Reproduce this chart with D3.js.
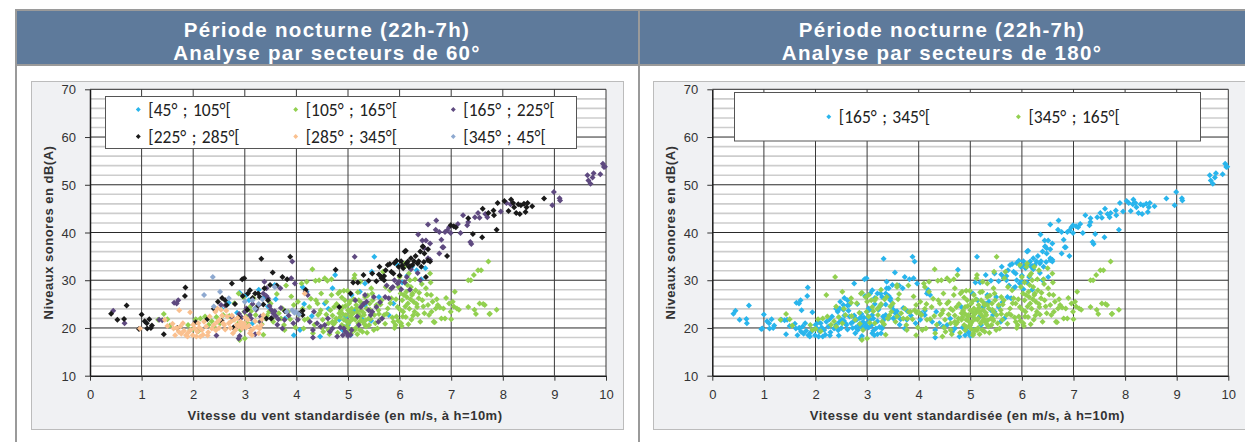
<!DOCTYPE html>
<html><head><meta charset="utf-8">
<script src="https://cdn.jsdelivr.net/npm/d3@7"></script>
<style>
html,body{margin:0;padding:0;background:#fff;}
svg{display:block;}
.tick text{font-family:"Liberation Sans",Arial,sans-serif;font-size:13px;fill:#333;}
</style>
</head><body>
<svg id="c" width="1245" height="442"></svg>
<script>
// ---------- DATA ----------
const xTicks = [0,1,2,3,4,5,6,7,8,9,10];
const yTicks = [10,20,30,40,50,60,70];
const titlesLeft = ["Période nocturne (22h-7h)", "Analyse par secteurs de 60°"];
const titlesRight = ["Période nocturne (22h-7h)", "Analyse par secteurs de 180°"];
const xTitle = "Vitesse du vent standardisée (en m/s, à h=10m)";
const yTitle = "Niveaux sonores en dB(A)";

const sectors60 = ["[45° ; 105°[", "[105° ; 165°[", "[165° ; 225°[", "[225° ; 285°[", "[285° ; 345°[", "[345° ; 45°["];
const colors60 = ["#29b5ec", "#92d050", "#5f4a80", "#1a1a1a", "#fac08f", "#8ea9d0"];
const sectors180 = ["[165° ; 345°[", "[345° ; 165°["];
const colors180 = ["#29b5ec", "#92d050"];

const s45_105 = [[2.69,25.3],[2.9,27.4],[3.03,26.9],[3.08,25.8],[3.27,28.0],[3.38,26.5],[3.58,29.0],[3.78,22.0],[3.95,18.5],[4.07,19.6],[4.12,28.6],[4.2,27.6],[4.46,18.2],[4.55,25.1],[4.7,28.3],[4.75,31.1],[4.83,21.7],[5.0,20.6],[5.07,26.9],[5.23,27.6],[5.33,29.3],[5.46,31.8],[5.51,34.9],[5.66,30.4],[5.79,22.7],[5.88,25.1],[5.96,33.2],[6.24,32.8],[6.33,32.1],[6.42,30.2],[6.5,32.5],[5.05,18.5],[4.96,22.4],[5.13,23.7],[5.27,21.9],[5.33,24.8],[2.85,23.2],[3.15,21.0],[3.45,24.5],[4.3,22.5],[4.62,24.0],[4.9,19.5],[5.6,26.5],[2.55,24.0],[3.6,26.0],[4.15,25.0],[5.45,21.5],[6.05,29.5],[6.15,31.0]];

const s105_165 = [[1.43,22.9],[1.32,21.7],[1.9,20.6],[1.94,19.6],[2.05,21.8],[2.14,22.0],[2.23,22.4],[2.36,21.4],[2.4,20.3],[2.52,21.0],[2.58,22.7],[2.77,21.7],[2.88,27.2],[2.92,19.6],[2.99,23.4],[3.03,22.4],[3.1,24.4],[3.17,26.2],[3.21,22.7],[3.29,21.3],[3.4,22.0],[3.47,23.4],[3.58,22.4],[3.66,23.1],[3.73,24.1],[3.77,19.6],[3.84,23.4],[3.95,24.8],[4.03,25.5],[4.1,29.3],[4.14,19.9],[4.16,21.7],[4.2,29.7],[4.25,24.4],[4.31,32.3],[4.32,18.9],[4.38,25.8],[4.42,22.7],[4.44,30.0],[4.47,23.7],[4.51,21.7],[4.55,30.4],[4.58,25.5],[4.62,19.6],[4.64,18.7],[4.66,23.7],[4.7,21.3],[4.73,24.4],[4.77,22.0],[4.81,27.2],[4.83,23.1],[4.84,27.6],[4.88,20.6],[4.9,24.4],[4.92,21.7],[4.94,25.8],[4.96,22.7],[4.98,20.3],[5.0,23.7],[5.02,25.1],[5.03,21.3],[5.05,22.4],[5.07,24.1],[5.09,19.6],[5.1,23.1],[5.13,31.1],[5.14,21.7],[5.16,24.8],[5.18,23.4],[5.2,21.0],[5.21,25.8],[5.24,22.4],[5.25,23.7],[5.27,24.8],[5.29,21.3],[5.31,22.7],[5.33,26.5],[5.35,20.3],[5.36,24.1],[5.4,22.0],[5.42,25.1],[5.45,23.4],[5.47,27.2],[5.5,19.6],[5.51,22.7],[5.55,24.8],[5.59,23.7],[5.62,21.7],[5.65,25.8],[5.68,31.8],[5.7,22.7],[5.73,28.6],[5.77,24.1],[5.81,27.9],[5.84,26.2],[5.88,21.3],[5.92,20.6],[5.94,22.4],[5.96,24.4],[5.98,28.6],[6.0,30.7],[6.02,27.2],[6.03,21.0],[6.05,25.8],[6.07,23.4],[6.09,32.8],[6.1,33.5],[6.13,27.6],[6.14,26.5],[6.16,25.1],[6.18,31.4],[6.2,30.0],[6.22,28.6],[6.24,26.9],[6.25,27.2],[6.29,23.4],[6.31,27.9],[6.34,24.4],[6.37,26.2],[6.4,21.3],[6.44,25.8],[6.48,23.1],[6.51,28.3],[6.55,24.8],[6.59,31.4],[6.61,26.9],[6.62,23.4],[6.66,21.3],[6.7,24.1],[6.74,24.8],[6.81,22.0],[6.85,24.1],[6.88,22.0],[6.96,25.1],[6.99,23.4],[7.03,25.5],[7.07,27.6],[7.11,24.1],[7.33,30.0],[7.33,24.4],[7.44,31.1],[7.48,22.9],[7.52,32.1],[7.55,25.1],[7.65,24.8],[7.74,22.9],[7.72,33.9],[7.88,23.8],[5.18,18.7],
[4.52,19.2],[4.58,22.8],[4.68,26.9],[4.72,20.8],[4.78,25.0],[4.8,19.0],[4.86,23.6],[4.88,26.4],[4.93,20.2],[4.95,24.6],[4.99,27.8],[5.01,21.0],[5.04,25.6],[5.06,18.9],[5.08,22.9],[5.11,26.0],[5.15,20.0],[5.17,24.2],[5.19,27.5],[5.22,21.2],[5.26,25.3],[5.28,19.2],[5.3,23.2],[5.34,21.6],[5.38,26.8],[5.41,20.6],[5.43,23.8],[5.48,25.8],[5.53,21.0],[5.57,19.9],[5.6,22.9],[5.63,24.9],[5.72,20.9],[5.75,23.0],[5.82,25.2],[5.86,22.2],[5.9,20.0],[5.93,26.0],[5.97,21.5],[6.01,23.8],[6.04,20.4],[6.08,26.9],[6.12,22.3],[6.15,29.0],[6.19,24.0],[6.23,21.7],[6.27,25.5],[6.3,30.2],[6.35,22.8],[6.38,27.4],[6.43,29.2],[6.46,24.5],[6.53,27.0],[6.57,22.7],[6.6,29.5],[6.64,25.5],[6.68,21.2],[6.72,26.0],[6.78,24.3],[6.9,26.3],[7.0,21.8],[7.05,24.5],[7.15,23.8],[4.05,22.7],[4.12,24.0],[4.22,21.9],[4.28,26.1],[4.35,20.7],[4.37,29.9],[4.41,25.1],[4.45,23.1],[4.48,27.2],[4.49,20.1],[3.5,25.1],[3.55,21.3],[3.62,27.1],[3.7,22.0],[3.88,21.8],[3.9,26.6],[3.98,20.1],[2.7,22.5],[2.8,25.2],[2.86,20.9],[2.97,26.5],[3.05,21.1],[3.12,23.5],[3.25,24.6],[3.33,20.8],[2.45,22.3],[2.3,20.7],[2.1,19.3],[2.0,19.8],[1.5,21.8],[1.55,20.5],[3.0,17.8],[2.9,17.5],[3.36,18.6],[3.43,22.6],[3.8,28.9],[3.76,20.6],[4.6,29.9],[4.68,30.2],[4.92,27.8],[5.12,30.4],[5.24,29.7],[5.45,28.3],[7.38,30.0],[7.58,32.1],[7.45,23.8],[7.62,25.0],[7.75,23.0],
[4.75,21.2],[4.85,22.3],[4.97,21.4],[5.02,19.8],[5.09,21.8],[5.13,19.5],[5.2,22.9],[5.23,19.6],[5.32,20.8],[5.37,19.0],[5.44,21.9],[4.7,22.6],[4.62,21.0],[4.9,22.9],[5.05,23.2],[5.15,22.0],[5.25,21.6],[6.06,22.4],[6.11,24.5],[6.17,20.8],[6.21,26.0],[6.26,22.6],[6.33,25.0]];

const s165_225 = [[0.45,23.6],[0.67,21.0],[1.63,25.3],[1.71,25.8],[1.34,21.7],[2.45,18.4],[2.54,24.8],[2.88,17.8],[2.9,18.3],[2.89,22.9],[2.94,22.2],[3.03,24.1],[3.1,22.7],[3.15,25.0],[3.2,18.7],[3.27,24.8],[3.31,22.4],[3.36,27.2],[3.38,29.7],[3.42,28.3],[3.45,26.2],[3.51,23.8],[3.55,23.1],[3.6,22.5],[3.65,21.8],[3.69,28.3],[3.73,19.9],[3.77,21.7],[3.92,33.9],[3.9,30.4],[3.94,21.0],[4.03,21.7],[4.18,27.6],[4.22,26.9],[4.26,21.3],[4.32,19.6],[4.32,18.0],[4.34,23.4],[4.47,20.3],[4.61,22.0],[4.7,19.9],[4.79,18.2],[4.9,18.5],[4.92,19.9],[4.98,18.9],[5.07,19.6],[5.13,34.9],[5.14,25.8],[5.18,22.4],[5.21,20.6],[5.25,24.4],[5.33,26.9],[5.36,25.5],[5.4,23.7],[5.44,22.7],[5.47,23.4],[5.55,24.4],[5.59,21.3],[5.66,22.0],[5.72,26.5],[5.79,26.2],[5.84,28.3],[5.87,28.6],[5.96,29.3],[5.99,29.7],[6.03,28.1],[6.14,30.7],[6.22,32.3],[6.48,36.7],[6.55,34.6],[6.59,34.3],[6.77,35.6],[6.83,36.9],[7.39,37.6],[6.59,37.7],
[6.36,39.6],[6.44,38.3],[6.51,38.3],[6.55,41.7],[6.7,40.6],[6.71,42.5],[6.77,40.1],[6.85,36.9],[6.81,38.5],[6.88,40.1],[6.92,40.4],[6.96,41.1],[6.99,39.9],[7.13,41.8],[7.18,39.9],[7.23,43.6],[7.31,41.5],[7.33,42.2],[7.37,38.0],[7.46,43.2],[7.52,44.1],[7.55,43.1],[7.66,43.9],[7.7,43.2],[7.96,44.4],[8.07,46.2],[8.15,45.9],[8.96,45.7],[8.99,48.5],[9.1,47.2],[9.11,46.7],[9.64,52.0],[9.66,50.9],[9.7,50.2],[9.74,51.5],[9.76,52.4],[9.89,52.2],[9.94,54.4],[9.96,53.7],[9.98,53.8],
[3.0,23.4],[3.12,22.0],[3.22,23.8],[3.3,21.3],[3.48,24.6],[3.52,22.1],[3.58,23.5],[3.63,20.7],[3.7,24.2],[3.85,22.6],[2.62,24.7],[2.75,22.3],[1.4,21.6],[1.68,25.1],[4.4,21.0],[4.55,20.6],[4.65,19.2],[4.85,20.1],[4.95,19.2],[5.0,18.3],[5.05,18.6],[5.3,25.0],[5.5,26.5],[5.62,25.4],[5.75,28.9],[5.9,30.0],[6.1,29.5],[6.2,28.0],[6.35,31.5],[6.4,30.0],[3.97,29.3],[3.42,26.7]];

const s225_285 = [[0.41,23.0],[0.53,21.7],[0.71,24.7],[0.66,21.9],[1.0,22.8],[1.06,21.4],[1.1,21.0],[1.11,19.9],[1.18,20.0],[1.43,18.7],[1.69,20.0],[1.84,26.7],[1.85,28.5],[2.27,21.8],[2.48,25.5],[2.56,26.3],[2.62,25.8],[2.75,29.3],[2.81,25.0],[2.78,20.1],[2.95,30.2],[2.99,30.4],[2.96,26.7],[3.06,27.2],[3.1,27.9],[3.2,27.2],[3.26,27.2],[3.29,26.5],[3.32,34.5],[3.38,28.3],[3.36,24.9],[3.49,29.0],[3.42,22.0],[3.51,22.0],[3.54,31.6],[3.73,30.7],[3.78,23.5],[3.88,34.9],[4.12,22.7],[4.12,23.6],[4.76,32.2],[4.83,24.4],[5.05,27.2],[5.1,29.5],[5.19,29.5],[5.3,31.1],[5.4,29.9],[5.47,31.4],[5.61,32.8],[5.65,30.7],[5.7,30.9],[5.73,32.1],[5.77,33.2],[5.81,33.4],[5.84,31.8],[5.88,31.4],[5.94,34.1],[5.98,32.8],[6.03,34.0],[6.07,32.5],[6.1,36.0],[6.13,33.5],[6.16,33.9],[6.18,32.8],[6.22,34.6],[6.25,33.2],[6.31,35.1],[6.37,34.0],[6.42,32.8],[6.45,37.0],[6.48,35.6],[6.51,30.7],[6.55,34.2],[6.59,33.9],[6.92,35.1],[5.65,30.4],[5.7,30.0],
[6.12,36.2],[6.45,37.1],[6.99,41.5],[7.05,41.3],[7.09,41.1],[7.33,43.0],[7.42,39.7],[7.6,39.0],[7.61,45.0],[7.72,44.1],[7.83,43.6],[7.82,44.6],[7.88,40.6],[7.9,46.2],[8.03,46.6],[8.11,44.5],[8.16,46.9],[8.2,46.2],[8.22,45.3],[8.26,44.1],[8.3,45.9],[8.35,45.7],[8.41,46.0],[8.44,44.3],[8.33,43.9],[8.48,46.2],[8.57,45.5],[8.8,47.1],[8.46,45.3],
[2.4,24.0],[2.55,21.5],[2.65,24.8],[2.88,22.2],[3.05,23.8],[3.15,26.3],[3.22,24.2],[3.45,25.8],[3.62,28.9],[3.82,30.2],[4.05,23.1],[4.18,28.0],[5.55,29.8],[5.6,31.2],[5.9,33.6],[6.0,31.0],[6.05,33.1],[6.2,33.0],[6.28,34.0],[6.35,33.5],[6.4,36.0],[6.47,33.8],[6.55,36.5],[2.05,21.2],[0.95,19.8],[1.15,21.8],[1.2,20.5]];

const s285_345 = [[0.97,19.9],[1.45,21.7],[1.5,20.4],[1.62,19.9],[1.65,18.5],[1.73,23.7],[1.77,18.8],[1.8,21.0],[1.86,18.5],[1.89,18.2],[1.94,23.3],[1.95,19.6],[1.99,18.5],[2.03,19.9],[2.06,18.2],[2.1,21.0],[2.14,18.2],[2.17,19.6],[2.21,21.3],[2.25,20.3],[2.32,22.4],[2.4,20.6],[2.43,23.4],[2.47,24.1],[2.51,21.7],[2.54,23.8],[2.58,21.0],[2.62,19.7],[2.66,22.4],[2.69,21.0],[2.73,21.3],[2.77,18.9],[2.8,21.7],[2.84,20.6],[2.88,20.3],[2.92,21.3],[2.95,19.9],[2.99,21.0],[3.03,20.1],[3.06,21.7],[3.1,18.9],[3.14,18.5],[3.17,19.9],[3.29,19.9],[3.32,20.6],[3.36,22.7],[4.16,27.2],
[1.6,20.9],[1.68,20.0],[1.75,20.3],[1.82,19.4],[1.9,19.0],[2.0,20.7],[2.08,19.2],[2.12,20.1],[2.19,18.6],[2.29,19.1],[2.36,19.9],[2.46,21.2],[2.5,20.0],[2.56,22.6],[2.6,20.6],[2.64,23.6],[2.72,20.0],[2.75,22.6],[2.82,19.6],[2.86,22.1],[2.9,20.8],[2.97,20.4],[3.01,22.2],[3.08,20.5],[3.12,19.4],[3.2,21.4],[3.24,20.2],[3.27,18.9],[3.33,21.8],[2.28,18.4],[1.72,19.2],[2.44,19.5]];

const s345_45 = [[2.38,30.7],[2.52,27.6],[2.21,26.9],[3.0,25.5],[3.15,25.8],[3.34,26.0],[3.27,25.0],[3.58,28.6],[3.92,23.7],[3.96,23.2],[3.99,23.4],[3.81,23.4],[2.69,26.2],[2.4,24.5],[3.2,24.0],[4.05,22.8]];

const series60 = [s45_105, s105_165, s165_225, s225_285, s285_345, s345_45];
// 180° sectors are the unions of the 60° sectors
const series180 = [
  [].concat(s165_225, s225_285, s285_345),
  [].concat(s345_45, s45_105, s105_165)
];

// ---------- DRAW ----------
const svg = d3.select("#c");
const FONT = '"Liberation Sans", Arial, sans-serif';
const LEGFONT = 'Carlito, Lato, "Open Sans", sans-serif';

svg.append("rect").attr("width",1245).attr("height",442).attr("fill","#fff");

const diamond = {draw(ctx, size){const r=Math.sqrt(size/2);ctx.moveTo(0,-r);ctx.lineTo(r,0);ctx.lineTo(0,r);ctx.lineTo(-r,0);ctx.closePath();}};

function panel(cfg){
  const g = svg.append("g");
  // title bar
  g.append("rect").attr("x",cfg.barX).attr("y",10).attr("width",cfg.barW).attr("height",55).attr("fill","#5e7a9b");
  cfg.titles.forEach((t,i)=>{
    g.append("text").attr("x",cfg.titleCx).attr("y",i===0?36.5:60).attr("text-anchor","middle")
      .attr("font-family",FONT).attr("font-weight","bold").attr("font-size","20.5px").attr("letter-spacing","1.3px")
      .attr("fill","#fff").text(t);
  });
  // chart area
  g.append("rect").attr("x",cfg.bgX+0.5).attr("y",81.5).attr("width",cfg.bgW).attr("height",348).attr("fill","#f0f1f3").attr("stroke","#bcbcbc").attr("stroke-width",1);

  const x = d3.scaleLinear().domain([0,10]).range([cfg.x0,cfg.x1]);
  const y = d3.scaleLinear().domain([10,70]).range([375.7,89.3]);

  g.append("rect").attr("x",x(0)).attr("y",y(70)).attr("width",x(10)-x(0)).attr("height",y(10)-y(70)).attr("fill","#fff");
  // minor grid
  const minor = d3.range(12,70,2).filter(v=>v%10!==0);
  g.append("g").selectAll("line").data(minor).join("line")
    .attr("x1",x(0)).attr("x2",x(10)).attr("y1",d=>y(d)).attr("y2",d=>y(d))
    .attr("stroke","#cdcdcd").attr("stroke-width",1.6);
  // major horizontal
  g.append("g").selectAll("line").data(yTicks.filter(v=>v>10)).join("line")
    .attr("x1",x(0)).attr("x2",x(10)).attr("y1",d=>y(d)).attr("y2",d=>y(d))
    .attr("stroke","#2a2a2a").attr("stroke-width",1);
  // vertical
  g.append("g").selectAll("line").data(xTicks.filter(v=>v>0)).join("line")
    .attr("x1",d=>x(d)).attr("x2",d=>x(d)).attr("y1",y(10)).attr("y2",y(70))
    .attr("stroke","#3a3a3a").attr("stroke-width",1);

  // points
  cfg.series.forEach((data,i)=>{
    g.append("g").selectAll("path").data(data).join("path")
      .attr("transform",d=>`translate(${x(d[0])},${y(d[1])})`)
      .attr("d",d3.symbol().type(diamond).size(18))
      .attr("fill",cfg.colors[i]);
  });

  // axes
  const ax = g.append("g").attr("transform",`translate(0,${y(10)})`)
    .call(d3.axisBottom(x).tickValues(xTicks).tickSize(5).tickSizeOuter(0).tickPadding(9).tickFormat(d3.format("d")));
  const ay = g.append("g").attr("transform",`translate(${x(0)},0)`)
    .call(d3.axisLeft(y).tickValues(yTicks).tickSize(5).tickSizeOuter(0).tickPadding(9).tickFormat(d3.format("d")));
  [ax,ay].forEach(a=>{
    a.select(".domain").attr("stroke","#1a1a1a").attr("stroke-width",1.5);
    a.selectAll(".tick line").attr("stroke","#333");
  });
  ay.selectAll(".tick text").attr("dy","0.36em");

  // legend
  const L = cfg.legend;
  g.append("rect").attr("x",L.x).attr("y",L.y).attr("width",L.w).attr("height",L.h).attr("fill","#fff").attr("stroke","#555").attr("stroke-width",1);
  cfg.labels.forEach((lab,i)=>{
    const cx = L.cols[i % L.cols.length], cy = L.rows[Math.floor(i / L.cols.length)];
    g.append("path").attr("transform",`translate(${cx},${cy})`).attr("d",d3.symbol().type(diamond).size(12)).attr("fill",cfg.colors[i]);
    g.append("text").attr("x",cx+10).attr("y",cy).attr("dy","0.35em").attr("font-family",LEGFONT).attr("font-size","17.5px")
      .attr("word-spacing","1.5px").attr("fill","#222").text(lab);
  });

  // axis titles
  g.append("text").attr("x",(x(0)+x(10))/2 - 3).attr("y",420).attr("text-anchor","middle")
    .attr("font-family",FONT).attr("font-weight","bold").attr("font-size","13px").attr("letter-spacing","0.5px").attr("fill","#333").text(xTitle);
  g.append("text").attr("transform",`translate(${x(0)-37},${(y(10)+y(70))/2}) rotate(-90)`).attr("text-anchor","middle")
    .attr("font-family",FONT).attr("font-weight","bold").attr("font-size","13px").attr("letter-spacing","0.5px").attr("fill","#333").text(yTitle);
}

panel({barX:16, barW:623, titleCx:327, titles:titlesLeft, bgX:31, bgW:592, x0:90, x1:606,
  series:series60, colors:colors60, labels:sectors60,
  legend:{x:105.5,y:96.5,w:471,h:52,cols:[138.3,295.7,453.3],rows:[109.5,136.5]}});
panel({barX:640, barW:605, titleCx:942, titles:titlesRight, bgX:653, bgW:600, x0:712.3, x1:1228.3,
  series:series180, colors:colors180, labels:sectors180,
  legend:{x:734.5,y:92.5,w:466,h:48.5,cols:[828.8,1018.4],rows:[116.7]}});

// frame lines
const frame = svg.append("g").attr("stroke","#9a9a9a").attr("stroke-width",2);
frame.append("line").attr("x1",15).attr("x2",1245).attr("y1",10).attr("y2",10);
frame.append("line").attr("x1",15).attr("x2",1245).attr("y1",65).attr("y2",65);
frame.append("line").attr("x1",16).attr("x2",16).attr("y1",9).attr("y2",442);
frame.append("line").attr("x1",639).attr("x2",639).attr("y1",9).attr("y2",442);
</script>
</body></html>
